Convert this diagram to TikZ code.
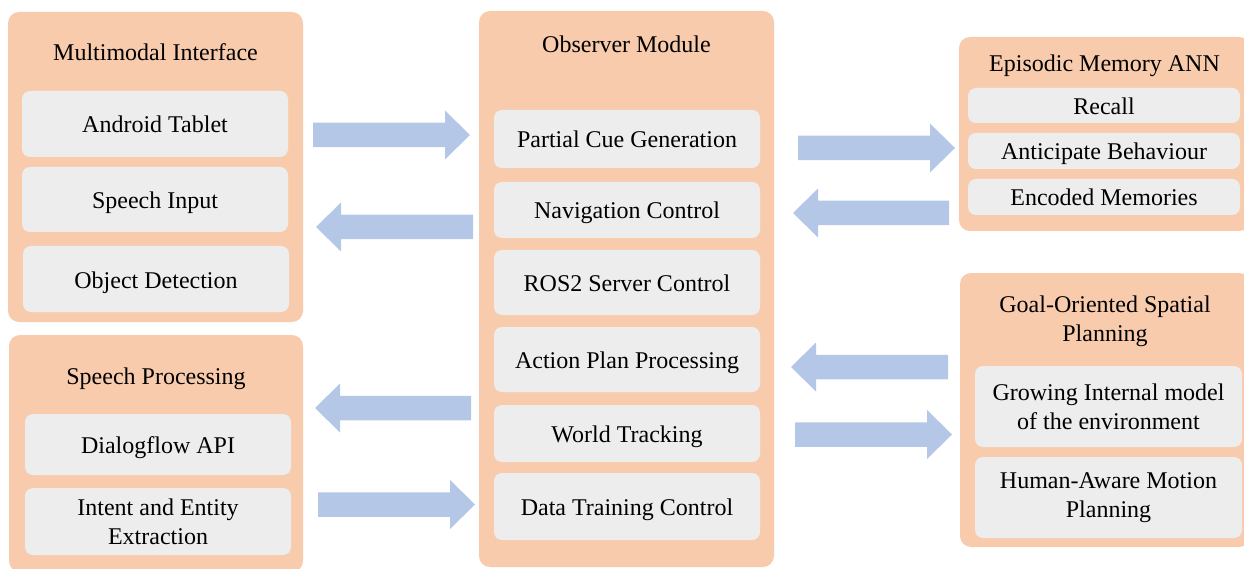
\documentclass[tikz,border=0pt]{standalone}
\usepackage{fontspec}
\setmainfont{Liberation Serif}
\usetikzlibrary{calc}
\definecolor{orgfill}{HTML}{F8CBAD}
\definecolor{boxgray}{HTML}{EDEDED}
\definecolor{arrblue}{HTML}{B4C7E7}
% #1 start coordinate, #2 tip coordinate, #3 = -1 for rightward, 1 for leftward
\newcommand\blockarrow[3]{%
  \fill[blk] ($(#1)+(0,12.25)$) -- ($(#2)+(#3*25,12.25)$) -- ($(#2)+(#3*25,24.5)$) -- (#2)
    -- ($(#2)+(#3*25,-24.5)$) -- ($(#2)+(#3*25,-12.25)$) -- ($(#1)+(0,-12.25)$) -- cycle;}
\begin{document}
\begin{tikzpicture}[x=1pt,y=-1pt,
  outer/.style={fill=orgfill, rounded corners=11pt, inner sep=0pt},
  inbox/.style={fill=boxgray, rounded corners=8pt, inner sep=0pt, align=center,
    font=\fontsize{24}{29}\selectfont},
  ttl/.style={inner sep=0pt, align=center, font=\fontsize{24}{29}\selectfont},
  one/.style={text height=18pt, text depth=0pt},
  blk/.style={fill=arrblue}]
\useasboundingbox (0,0) rectangle (1244,569);
\clip (0,0) rectangle (1244,569);

% outer containers
\node[outer, minimum width=295pt, minimum height=310pt] (mm) at (155.5,167) {};
\node[outer, minimum width=294pt, minimum height=237pt] (sp) at (156,453.5) {};
\node[outer, minimum width=295pt, minimum height=556pt] (obs) at (626.5,289) {};
\node[outer, minimum width=291pt, minimum height=194pt] (epi) at (1104.5,134) {};
\node[outer, minimum width=290pt, minimum height=274pt] (goal) at (1105,410) {};

% titles
\node[ttl, one] (mmt) at (155.5,52) {Multimodal Interface};
\node[ttl, one] (spt) at (156,375) {Speech Processing};
\node[ttl, one] (obst) at (626.5,44) {Observer Module};
\node[ttl, one] (epit) at (1104.5,63) {Episodic Memory ANN};
\node[ttl] (goalt) at (1105,321) {Goal-Oriented Spatial\\Planning};

% multimodal interface items
\node[inbox, one, minimum width=266pt, minimum height=66pt] (tab) at (155,124) {Android Tablet};
\node[inbox, one, minimum width=266pt, minimum height=65pt] (spin) at (155,199.5) {Speech Input};
\node[inbox, one, minimum width=266pt, minimum height=66pt] (objd) at (156,279) {Object Detection};

% speech processing items
\node[inbox, one, minimum width=266pt, minimum height=61pt] (dfa) at (158,444.5) {Dialogflow API};
\node[inbox, minimum width=266pt, minimum height=67pt] (iee) at (158,521.5) {Intent and Entity\\Extraction};

% observer items
\node[inbox, one, minimum width=266pt, minimum height=58pt] (pcg) at (627,139) {Partial Cue Generation};
\node[inbox, one, minimum width=266pt, minimum height=56pt] (nav) at (627,210) {Navigation Control};
\node[inbox, one, minimum width=266pt, minimum height=65pt] (ros) at (627,282.5) {ROS2 Server Control};
\node[inbox, one, minimum width=266pt, minimum height=65pt] (app) at (627,359.5) {Action Plan Processing};
\node[inbox, one, minimum width=266pt, minimum height=57pt] (wtr) at (627,433.5) {World Tracking};
\node[inbox, one, minimum width=266pt, minimum height=67pt] (dtc) at (627,506.5) {Data Training Control};

% episodic memory items
\node[inbox, one, minimum width=272pt, minimum height=35pt] (rec) at (1104,105.5) {Recall};
\node[inbox, one, minimum width=272pt, minimum height=36pt] (ant) at (1104,151) {Anticipate Behaviour};
\node[inbox, one, minimum width=272pt, minimum height=36pt] (enc) at (1104,197) {Encoded Memories};

% goal-oriented planning items
\node[inbox, minimum width=267pt, minimum height=81pt] (gim) at (1108.5,406.5) {Growing Internal model\\of the environment};
\node[inbox, minimum width=267pt, minimum height=81pt] (ham) at (1108.5,497.5) {Human-Aware Motion\\Planning};

% block arrows
\coordinate (a1s) at (313,135);   \coordinate (a1t) at (470,135);
\coordinate (a2s) at (473,227);   \coordinate (a2t) at (316,227);
\coordinate (a3s) at (471,408);   \coordinate (a3t) at (315,408);
\coordinate (a4s) at (318,504.5); \coordinate (a4t) at (475,504.5);
\coordinate (a5s) at (798,148);   \coordinate (a5t) at (955,148);
\coordinate (a6s) at (949,213);   \coordinate (a6t) at (793,213);
\coordinate (a7s) at (948,367);   \coordinate (a7t) at (791,367);
\coordinate (a8s) at (795,434.5); \coordinate (a8t) at (952,434.5);
\blockarrow{a1s}{a1t}{-1}
\blockarrow{a2s}{a2t}{1}
\blockarrow{a3s}{a3t}{1}
\blockarrow{a4s}{a4t}{-1}
\blockarrow{a5s}{a5t}{-1}
\blockarrow{a6s}{a6t}{1}
\blockarrow{a7s}{a7t}{1}
\blockarrow{a8s}{a8t}{-1}
\end{tikzpicture}
\end{document}
